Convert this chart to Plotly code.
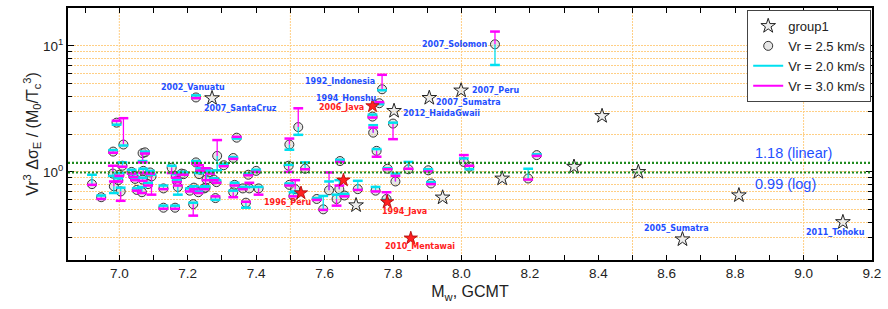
import math
import plotly.graph_objects as go

# ---------------- data ----------------
# events analysed with three rupture velocities (Vr = 2.5 circle, 2.0 cyan, 3.0 magenta)
circ_mw = [6.920, 6.947, 6.982, 6.992, 6.981, 6.984, 6.997, 7.004, 7.009, 7.012,
           7.000, 7.036, 7.041, 7.046, 7.051, 7.068, 7.075, 7.070, 7.068, 7.066,
           7.090, 7.094, 7.084, 7.129, 7.129, 7.153, 7.163, 7.165, 7.168, 7.171,
           7.182, 7.188, 7.206, 7.216, 7.218, 7.224, 7.224, 7.231, 7.233, 7.237,
           7.248, 7.252, 7.255, 7.265, 7.276, 7.281, 7.284, 7.286, 7.305, 7.333,
           7.333, 7.337, 7.343, 7.361, 7.370, 7.377, 7.380, 7.400, 7.407, 7.495,
           7.497, 7.497, 7.509, 7.514, 7.523, 7.543, 7.577, 7.596, 7.613, 7.635,
           7.643, 7.645, 7.658, 7.697, 7.742, 7.740, 7.760, 7.768, 7.749, 7.752,
           7.781, 7.784, 7.800, 7.807, 7.845, 7.903, 7.911, 8.007, 8.023, 8.098,
           8.195, 8.220]
circ_v25 = [0.80, 0.63, 1.45, 2.46, 0.97, 0.77, 0.86, 0.70, 1.12, 1.65,
            0.95, 1.00, 0.93, 0.88, 0.72, 1.41, 1.43, 1.02, 0.87, 0.69,
            0.99, 0.92, 0.80, 0.52, 0.74, 1.08, 0.52, 0.93, 0.85, 0.76,
            0.97, 0.96, 0.71, 0.555, 0.75, 3.90, 1.19, 0.69, 0.96, 1.04,
            0.74, 0.75, 0.87, 0.99, 0.87, 0.62, 0.83, 1.34, 1.13, 0.69,
            1.29, 0.79, 1.87, 0.74, 0.57, 0.95, 0.74, 1.02, 0.74, 1.12,
            1.65, 0.79, 0.645, 0.73, 2.27, 1.06, 0.61, 0.505, 0.715, 0.61,
            0.73, 1.22, 0.65, 0.73, 2.05, 2.75, 3.51, 4.53, 0.71, 1.47,
            0.61, 1.06, 2.42, 0.84, 1.05, 1.03, 0.81, 1.20, 1.10, 10.3,
            0.887, 1.36]
circ_v20 = [0.95, 0.65, 1.49, 2.37, 0.93, 0.68, 0.89, 0.75, 1.19, 1.62,
            0.98, 1.04, 0.96, 0.90, 0.74, 1.22, 1.45, 1.06, 0.90, 0.76,
            1.02, 0.95, 0.82, 0.54, 0.78, 1.12, 0.54, 0.96, 0.87, 0.66,
            1.00, 0.99, 0.74, 0.57, 0.77, 4.05, 1.22, 0.70, 0.98, 1.07,
            0.76, 0.77, 1.03, 1.01, 0.89, 0.60, 0.86, 1.03, 1.16, 0.71,
            1.31, 0.82, 1.84, 0.76, 0.52, 0.97, 0.76, 1.04, 0.76, 1.14,
            1.50, 0.81, 0.69, 0.70, 1.97, 1.19, 0.62, 0.645, 0.84, 0.66,
            0.86, 1.25, 0.67, 0.85, 2.35, 2.85, 3.45, 4.45, 0.76, 1.52,
            0.60, 1.07, 2.46, 0.97, 1.20, 1.05, 0.83, 1.28, 1.05, 7.06,
            1.06, 1.38]
circ_v30 = [0.79, 0.61, 1.42, 2.55, 1.12, 0.84, 0.84, 0.59, 1.10, 2.67,
            0.93, 0.97, 0.91, 0.86, 0.71, 1.19, 1.40, 0.98, 0.85, 0.68,
            0.97, 0.66, 0.78, 0.51, 0.73, 0.98, 0.51, 0.90, 0.83, 0.78,
            0.95, 0.95, 0.70, 0.45, 0.73, 3.85, 1.17, 0.68, 1.13, 1.02,
            0.73, 1.07, 0.86, 0.97, 0.86, 0.64, 0.82, 1.79, 1.11, 0.63,
            1.27, 0.78, 1.90, 0.73, 0.58, 0.94, 0.82, 1.00, 0.66, 1.00,
            1.84, 0.78, 0.64, 0.86, 3.20, 1.05, 0.60, 0.50, 0.99, 0.54,
            0.78, 1.20, 0.64, 0.72, 2.25, 2.70, 3.58, 5.90, 0.70, 1.32,
            0.69, 1.05, 1.82, 0.93, 1.06, 1.01, 0.80, 1.36, 1.12, 13.0,
            0.87, 1.34]
circ_labels = {35: "2002_Vanuatu", 76: "1994_Honshu", 77: "1992_Indonesia", 89: "2007_Solomon"}

# group1 events (open stars)
g1_mw = [7.271, 7.692, 7.803, 7.906, 7.999, 7.945, 8.119, 8.329, 8.411, 8.517, 8.646, 8.811, 9.115]
g1_v = [3.85, 0.544, 3.05, 3.87, 4.43, 0.627, 0.887, 1.10, 2.78, 1.00, 0.292, 0.653, 0.40]
g1_names = ["2007_SantaCruz", "", "2012_HaidaGwaii", "2007_Sumatra", "2007_Peru", "", "", "", "",
            "", "2005_Sumatra", "", "2011_Tohoku"]

# tsunami earthquakes (red stars)
ts_mw = [7.531, 7.655, 7.740, 7.783, 7.852]
ts_v = [0.68, 0.86, 3.34, 0.578, 0.298]
ts_names = ["1996_Peru", "", "2006_Java", "1994_Java", "2010_Mentawai"]

# reference levels
ref_values = [1.18, 0.99]
ref_labels = ["1.18 (linear)", "0.99 (log)"]

x_ticks_grid = [7.0, 7.5, 8.0, 8.5, 9.0]

# ---------------- styles ----------------
BLUE = "#1f4fff"
RED = "#ff2020"
CYAN = "#00e0f0"
MAGENTA = "#ff00ff"
GRID = "#ffcf85"
GREEN = "#1f8a1f"

label_style = {  # name: (xanchor, xshift, yshift)
    "2002_Vanuatu": ("center", -3, 10),
    "2007_SantaCruz": ("left", -10, -10),
    "1992_Indonesia": ("right", -5, 8),
    "1994_Honshu": ("right", 0, 5),
    "2006_Java": ("right", -6, -2),
    "2012_HaidaGwaii": ("left", 7, -3),
    "2007_Sumatra": ("left", 5, -5),
    "2007_Peru": ("left", 9, 0),
    "2007_Solomon": ("right", -5, 0),
    "1996_Peru": ("right", 13, -9),
    "1994_Java": ("left", -7, -10),
    "2010_Mentawai": ("left", -28, -8),
    "2005_Sumatra": ("left", -40, 11),
    "2011_Tohoku": ("left", -39, -10),
}

fig = go.Figure()

# circles (Vr = 2.5)
fig.add_trace(go.Scatter(
    x=circ_mw, y=circ_v25, mode="markers", name="Vr = 2.5 km/s", legendrank=2,
    marker=dict(symbol="circle", size=9, color="rgba(200,200,200,0.45)",
                line=dict(color="#333333", width=1)),
))

# stems
def stem_trace(vals, color):
    plus = [max(v - c, 0) for v, c in zip(vals, circ_v25)]
    minus = [max(c - v, 0) for v, c in zip(vals, circ_v25)]
    return go.Scatter(
        x=circ_mw, y=circ_v25, mode="markers", showlegend=False, hoverinfo="skip",
        marker=dict(size=1, color="rgba(0,0,0,0)"),
        error_y=dict(type="data", symmetric=False, array=plus, arrayminus=minus,
                     color=color, thickness=1.3, width=0),
    )

fig.add_trace(stem_trace(circ_v20, CYAN))
fig.add_trace(stem_trace(circ_v30, MAGENTA))

# caps
fig.add_trace(go.Scatter(
    x=circ_mw, y=circ_v20, mode="markers", showlegend=False, hoverinfo="skip",
    marker=dict(symbol="line-ew", size=7, line=dict(color=CYAN, width=2.5)),
))
fig.add_trace(go.Scatter(
    x=circ_mw, y=circ_v30, mode="markers", showlegend=False, hoverinfo="skip",
    marker=dict(symbol="line-ew", size=7, line=dict(color=MAGENTA, width=2.5)),
))

# legend proxies for the error bars
fig.add_trace(go.Scatter(x=[None], y=[None], mode="lines", name="Vr = 2.0 km/s",
                         legendrank=3, line=dict(color=CYAN, width=2)))
fig.add_trace(go.Scatter(x=[None], y=[None], mode="lines", name="Vr = 3.0 km/s",
                         legendrank=4, line=dict(color=MAGENTA, width=2)))

# group1 stars
fig.add_trace(go.Scatter(
    x=g1_mw, y=g1_v, mode="markers", name="group1", legendrank=1,
    marker=dict(symbol="star", size=11, color="rgba(225,225,225,0.6)",
                line=dict(color="#222222", width=1)),
))
# tsunami earthquakes
fig.add_trace(go.Scatter(
    x=ts_mw, y=ts_v, mode="markers", showlegend=False,
    marker=dict(symbol="star", size=10, color=RED, line=dict(color="#aa0000", width=0.8)),
))

# reference lines
for rv in ref_values:
    fig.add_shape(type="line", xref="x domain", yref="y", x0=0, x1=1, y0=rv, y1=rv,
                  line=dict(color=GREEN, width=2.2, dash="2px,2px"), layer="above")

# vertical grid lines
for gx in x_ticks_grid:
    fig.add_shape(type="line", xref="x", yref="y domain", x0=gx, x1=gx, y0=0, y1=1,
                  line=dict(color=GRID, width=1, dash="2px,1px"), layer="below")

annotations = []

def add_label(x, y, name, color):
    xa, xs, ys = label_style[name]
    annotations.append(dict(x=x, y=math.log10(y), xref="x", yref="y", text="<b>" + name + "</b>",
                            showarrow=False, xanchor=xa, yanchor="middle",
                            xshift=xs, yshift=ys,
                            font=dict(family="DejaVu Sans", size=8, color=color)))

for i, name in circ_labels.items():
    add_label(circ_mw[i], circ_v25[i], name, BLUE)
for x, y, n in zip(g1_mw, g1_v, g1_names):
    if n:
        add_label(x, y, n, BLUE)
for x, y, n in zip(ts_mw, ts_v, ts_names):
    if n:
        add_label(x, y, n, RED)

for rv, txt, ys in zip(ref_values, ref_labels, [10, -12]):
    annotations.append(dict(x=8.851, y=math.log10(rv), xref="x", yref="y", text=txt,
                            showarrow=False, xanchor="left", yanchor="middle", yshift=ys,
                            font=dict(family="Liberation Sans", size=14.5, color=BLUE)))

minor_y = [m * 10 ** e for e in (-1, 0, 1) for m in range(2, 10)]

fig.update_layout(
    width=888, height=309,
    margin=dict(l=68, r=16, t=8, b=49, autoexpand=False),
    plot_bgcolor="white", paper_bgcolor="white",
    font=dict(family="Liberation Sans", size=13.5, color="#222222"),
    annotations=annotations,
    legend=dict(x=0.999, y=0.992, xanchor="right", yanchor="top", bgcolor="white",
                bordercolor="#444444", borderwidth=1, font=dict(size=13),
                tracegroupgap=0, itemsizing="trace"),
    xaxis=dict(
        range=[6.85, 9.2], tick0=7.0, dtick=0.2, tickformat=".1f", automargin=False,
        ticks="inside", ticklen=5, tickcolor="black", tickwidth=1,
        showline=True, linecolor="black", linewidth=2, mirror="ticks",
        showgrid=False, zeroline=False,
        minor=dict(tick0=7.0, dtick=0.1, ticks="inside", ticklen=5, tickcolor="black",
                   showgrid=False),
        title=dict(text="M<sub>w</sub>, GCMT", font=dict(size=16), standoff=6),
    ),
    yaxis=dict(
        type="log", range=[math.log10(0.2), math.log10(20)], automargin=False,
        tickmode="array", tickvals=[1, 10], ticktext=["10<sup>0</sup>", "10<sup>1</sup>"],
        ticks="inside", ticklen=6, tickcolor="black",
        showline=True, linecolor="black", linewidth=2, mirror="ticks",
        showgrid=True, gridcolor=GRID, griddash="2px,1px", gridwidth=1, zeroline=False,
        minor=dict(tickmode="array", tickvals=minor_y, ticks="inside", ticklen=4,
                   tickcolor="black", showgrid=True, gridcolor=GRID, griddash="2px,1px",
                   gridwidth=1),
        title=dict(text="Vr<sup>3</sup> Δσ<sub>E</sub> / (M<sub>0</sub>/T<sub>c</sub><sup>3</sup>)",
                   font=dict(size=16), standoff=0),
    ),
)

fig.write_html("out.html", config={"displayModeBar": False},
               post_script="document.body.style.margin='0';")
